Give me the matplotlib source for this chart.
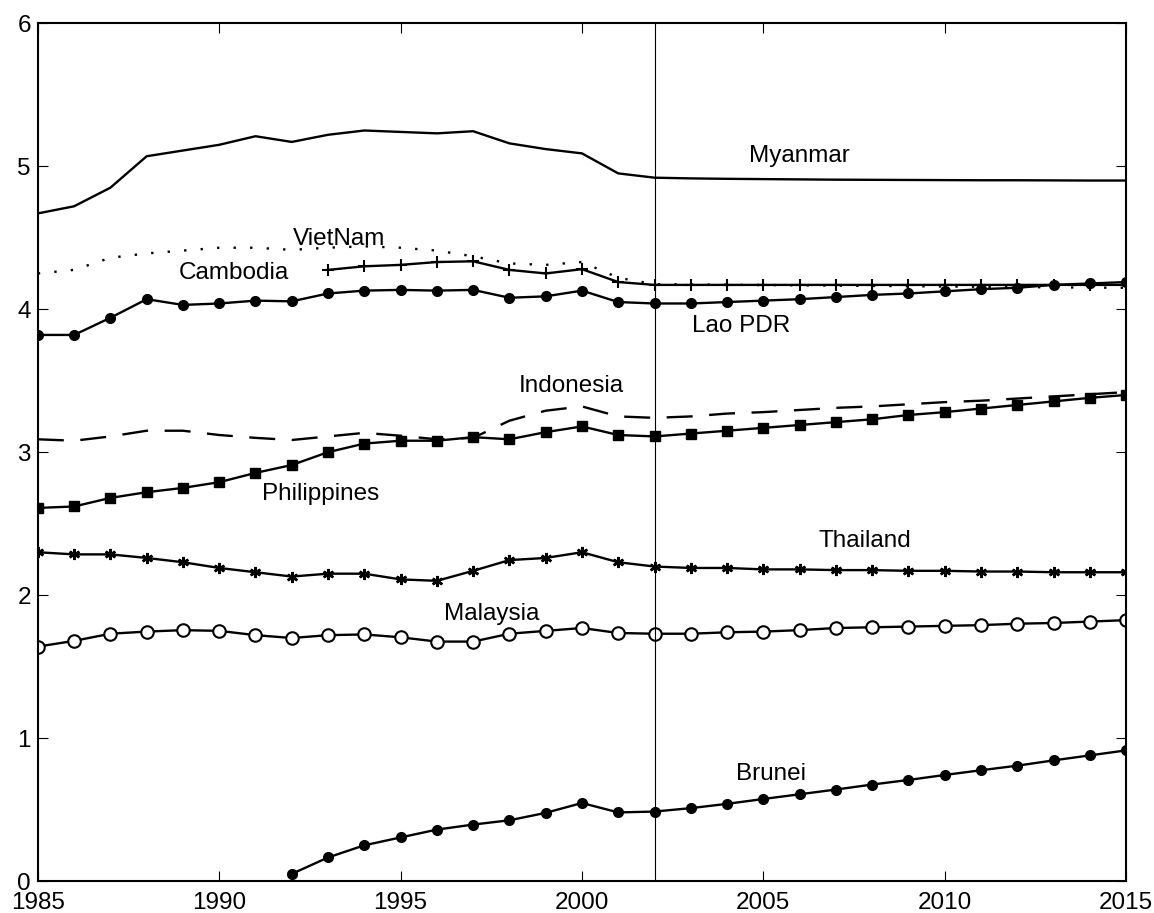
import matplotlib.pyplot as plt

plt.rcParams['font.family'] = ['Liberation Sans', 'DejaVu Sans']

years = list(range(1985, 2016))

myanmar = [4.67, 4.72, 4.85, 5.07, 5.11, 5.15, 5.21, 5.17, 5.22, 5.25, 5.24,
           5.23, 5.245, 5.16, 5.12, 5.09, 4.95, 4.92, 4.915, 4.912, 4.91,
           4.908, 4.906, 4.905, 4.904, 4.903, 4.902, 4.902, 4.901, 4.90, 4.90]
vietnam = [4.25, 4.275, 4.36, 4.39, 4.41, 4.43, 4.43, 4.415, 4.43, 4.44, 4.43,
           4.41, 4.37, 4.32, 4.31, 4.33, 4.22, 4.175, 4.173, 4.171, 4.169,
           4.167, 4.165, 4.163, 4.161, 4.159, 4.157, 4.155, 4.153, 4.151, 4.15]
cambodia_years = list(range(1993, 2016))
cambodia = [4.275, 4.30, 4.31, 4.33, 4.335, 4.275, 4.25, 4.28, 4.19, 4.17,
            4.17, 4.17, 4.17, 4.17, 4.17, 4.17, 4.17, 4.17, 4.17, 4.17,
            4.17, 4.17, 4.17]
lao = [3.82, 3.82, 3.94, 4.07, 4.03, 4.04, 4.06, 4.055, 4.11, 4.13, 4.135,
       4.13, 4.135, 4.08, 4.09, 4.13, 4.05, 4.04, 4.04, 4.05, 4.06,
       4.07, 4.085, 4.10, 4.11, 4.125, 4.14, 4.15, 4.17, 4.18, 4.19]
indonesia = [3.09, 3.08, 3.11, 3.15, 3.15, 3.12, 3.10, 3.085, 3.11, 3.135, 3.115,
             3.09, 3.10, 3.22, 3.29, 3.32, 3.25, 3.24, 3.25, 3.27, 3.28,
             3.295, 3.31, 3.32, 3.335, 3.35, 3.36, 3.375, 3.39, 3.405, 3.42]
philippines = [2.61, 2.62, 2.68, 2.72, 2.75, 2.79, 2.855, 2.91, 3.00, 3.06, 3.08,
               3.08, 3.105, 3.09, 3.14, 3.18, 3.12, 3.11, 3.13, 3.15, 3.17,
               3.19, 3.21, 3.23, 3.26, 3.28, 3.305, 3.33, 3.355, 3.38, 3.40]
thailand = [2.30, 2.285, 2.285, 2.26, 2.23, 2.19, 2.16, 2.13, 2.15, 2.15, 2.11,
            2.10, 2.17, 2.245, 2.26, 2.30, 2.23, 2.20, 2.19, 2.19, 2.18,
            2.18, 2.175, 2.175, 2.17, 2.17, 2.165, 2.165, 2.16, 2.16, 2.16]
malaysia = [1.64, 1.68, 1.73, 1.745, 1.755, 1.75, 1.72, 1.70, 1.72, 1.725, 1.705,
            1.675, 1.675, 1.73, 1.75, 1.77, 1.735, 1.73, 1.73, 1.74, 1.745,
            1.755, 1.77, 1.775, 1.78, 1.785, 1.79, 1.80, 1.805, 1.815, 1.825]
brunei_years = list(range(1992, 2016))
brunei = [0.05, 0.165, 0.25, 0.305, 0.36, 0.395, 0.425, 0.477, 0.546, 0.48,
          0.486, 0.51, 0.54, 0.574, 0.607, 0.64, 0.675, 0.707, 0.742, 0.775,
          0.807, 0.844, 0.879, 0.914]

# label text and where it sits (year, value)
labels = ['Myanmar', 'VietNam', 'Cambodia', 'Lao PDR', 'Indonesia',
          'Philippines', 'Thailand', 'Malaysia', 'Brunei']
label_x = [2006.0, 1993.3, 1990.4, 2004.4, 1999.7, 1992.8, 2007.8, 1997.5, 2005.2]
label_y = [5.07, 4.49, 4.25, 3.88, 3.46, 2.71, 2.38, 1.87, 0.75]

fig = plt.figure(figsize=(11.54, 9.13), dpi=100)
ax = fig.add_axes([0.0328, 0.035, 0.943, 0.9395])

lw = 1.7
ax.plot(years, myanmar, color='black', lw=lw)
ax.plot(years, vietnam, color='black', lw=lw, linestyle=(0, (1, 6)))
ax.plot(cambodia_years, cambodia, color='black', lw=lw, marker='+',
        markersize=8, markeredgewidth=1.5)
ax.plot(years, lao, color='black', lw=lw, marker='o', markersize=7)
ax.plot(years, indonesia, color='black', lw=lw, linestyle=(0, (11, 7)))
ax.plot(years, philippines, color='black', lw=lw, marker='s', markersize=6.5)
ax.plot(years, thailand, color='black', lw=lw, marker=(6, 2, 0), markersize=8,
        markeredgewidth=1.8)
ax.plot(years, malaysia, color='black', lw=lw, marker='o', markersize=9,
        markerfacecolor='white', markeredgewidth=1.5)
ax.plot(brunei_years, brunei, color='black', lw=lw, marker='o', markersize=7)

ax.axvline(2002, color='black', lw=0.8)

for name, x, y in zip(labels, label_x, label_y):
    ax.text(x, y, name, fontsize=17.5, ha='center', va='center')

ax.set_xlim(1985, 2015)
ax.set_ylim(0, 6)
ax.set_xticks(range(1985, 2016, 5))
ax.set_yticks(range(0, 7))
ax.tick_params(direction='in', length=7, width=0.8, labelsize=17.5,
               top=True, right=True)
ax.tick_params(axis='x', pad=8)
ax.tick_params(axis='y', pad=5)
for s in ax.spines.values():
    s.set_linewidth(1.5)

plt.savefig('out.png')
